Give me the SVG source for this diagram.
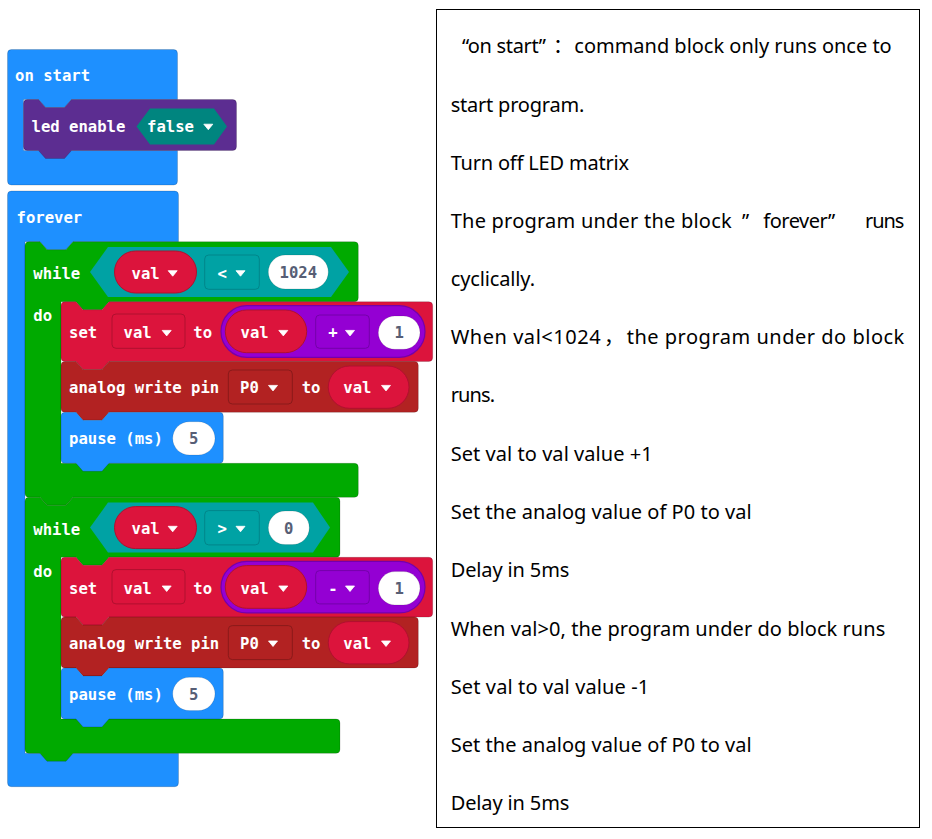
<svg xmlns="http://www.w3.org/2000/svg" xmlns:xlink="http://www.w3.org/1999/xlink" width="932" height="839" viewBox="0 0 932 839">
  <style>
    .lbl { font-family: "DejaVu Sans Mono", "Liberation Mono", monospace; font-size: 15.6px; font-weight: bold; fill: #ffffff; }
    .num { font-family: "DejaVu Sans Mono", "Liberation Mono", monospace; font-size: 15.6px; font-weight: bold; fill: #575E75; text-anchor: middle; }
    .blk { stroke: rgba(0,0,0,0.16); stroke-width: 1; }
    .basic { fill: #1E90FF; }
    .loop { fill: #00AA00; }
    .led { fill: #5C2D91; }
    .vars { fill: #DC143C; }
    .pins { fill: #B22222; }
    .logic { fill: #00A2A4; }
    .bool { fill: #00857F; }
    .math { fill: #9400D3; stroke: #7400AA; stroke-width: 1.2; }
    .pill-red { fill: #DC143C; stroke: #B0102F; stroke-width: 1; }
    .box-red { fill: #DC143C; stroke: #B0102F; stroke-width: 1; }
    .box-pin { fill: #B22222; stroke: #8A1A1A; stroke-width: 1; }
    .box-logic { fill: #00A2A4; stroke: #00868A; stroke-width: 1; }
    .box-math { fill: #9400D3; stroke: #7400AA; stroke-width: 1; }
    .pill-num { fill: #ffffff; stroke: rgba(0,0,0,0.12); stroke-width: 1; }
    .note { font-family: "Noto Sans", "Noto Sans CJK SC", sans-serif; font-size: 20px; fill: #000000; }
  </style>
  <defs>
    <!-- dropdown caret, centred on its own origin -->
    <path id="caret" d="M-4.5,-2.6 H4.5 L0,2.9 Z" fill="#ffffff" stroke="#ffffff" stroke-width="0.8" stroke-linejoin="round"/>
  </defs>

  <rect width="932" height="839" fill="#ffffff"/>

  <!-- on start hat with its single statement -->
  <g id="on-start">
    <path class="blk basic" d="M7.5,53.5 Q7.5,49.5 11.5,49.5 H173.5 Q177.5,49.5 177.5,53.5 V99.5 H71.5 l-7,8 h-19 l-7,-8 H23.5 V150.5 H177.5 V181 Q177.5,185 173.5,185 H11.5 Q7.5,185 7.5,181 Z"/>
    <text class="lbl" x="15" y="81">on start</text>
  </g>
  <g id="led-enable">
    <path class="blk led" d="M23.5,103.5 Q23.5,99.5 27.5,99.5 H38.5 l7,8 h19 l7,-8 H232.5 Q236.5,99.5 236.5,103.5 V146.5 Q236.5,150.5 232.5,150.5 H71.5 l-7,8 h-19 l-7,-8 H27.5 Q23.5,150.5 23.5,146.5 Z"/>
    <text class="lbl" x="31.5" y="131.5">led enable</text>
    <polygon class="bool" points="136.5,126.5 150,108.5 214,108.5 227,126.5 214,144.5 150,144.5"/>
    <text class="lbl" x="147" y="131.5">false</text>
    <use xlink:href="#caret" x="208.3" y="126.8"/>
  </g>

  <!-- forever hat -->
  <g id="forever">
    <path class="blk basic" d="M7.5,195 Q7.5,191 11.5,191 H174.5 Q178.5,191 178.5,195 V241.7 H73 l-7,8 h-19 l-7,-8 H25 V753.3 H178.5 V782.7 Q178.5,786.7 174.5,786.7 H11.5 Q7.5,786.7 7.5,782.7 Z"/>
    <text class="lbl" x="16.5" y="223">forever</text>
  </g>

  <!-- while val < 1024 -->
  <g id="while-up">
    <path class="blk loop" d="M25,245.7 Q25,241.7 29,241.7 H40 l7,8 h19 l7,-8 H354.3 Q358.3,241.7 358.3,245.7 V297.7 Q358.3,301.7 354.3,301.7 H109 l-7,8 h-19 l-7,-8 H61 V463.3 H354.3 Q358.3,463.3 358.3,467.3 V493.3 Q358.3,497.3 354.3,497.3 H73 l-7,8 h-19 l-7,-8 H29 Q25,497.3 25,493.3 Z"/>
    <text class="lbl" x="33.3" y="279">while</text>
    <text class="lbl" x="33.3" y="321">do</text>
    <polygon class="logic" points="90,272 108,247 331,247 349,272 331,297 108,297"/>
    <rect class="pill-red" x="114.5" y="251" width="82" height="42" rx="21"/>
    <text class="lbl" x="131.5" y="278.5">val</text>
    <use xlink:href="#caret" x="172.7" y="273.3"/>
    <rect class="box-logic" x="204.7" y="255" width="54.6" height="34.3" rx="4"/>
    <text class="lbl" x="217.5" y="278.5">&lt;</text>
    <use xlink:href="#caret" x="240.5" y="273.3"/>
    <rect class="pill-num" x="268.3" y="255" width="60" height="34" rx="17"/>
    <text class="num" x="298.3" y="278">1024</text>
  </g>

  <!-- body of the counting-up loop -->
  <g id="set-up">
    <path class="blk vars" d="M61,305.7 Q61,301.7 65,301.7 H76 l7,8 h19 l7,-8 H428.7 Q432.7,301.7 432.7,305.7 V357.5 Q432.7,361.5 428.7,361.5 H109 l-7,8 h-19 l-7,-8 H65 Q61,361.5 61,357.5 Z"/>
    <text class="lbl" x="69" y="338">set</text>
    <rect class="box-red" x="112" y="314" width="73" height="34.3" rx="4"/>
    <text class="lbl" x="123.5" y="338">val</text>
    <use xlink:href="#caret" x="166.7" y="333"/>
    <text class="lbl" x="193.3" y="338">to</text>
    <rect class="math" x="221" y="305.7" width="204" height="51.6" rx="25.8"/>
    <rect class="pill-red" x="225.3" y="310" width="81.4" height="42.7" rx="21.3"/>
    <text class="lbl" x="240.5" y="338">val</text>
    <use xlink:href="#caret" x="283.3" y="333"/>
    <rect class="box-math" x="315.7" y="315" width="53.6" height="33.3" rx="4"/>
    <text class="lbl" x="328.3" y="338">+</text>
    <use xlink:href="#caret" x="350" y="333"/>
    <rect class="pill-num" x="378.3" y="316" width="41.7" height="33.3" rx="16.6"/>
    <text class="num" x="399.2" y="338">1</text>
  </g>
  <g id="write-up">
    <path class="blk pins" d="M61,365.5 Q61,361.5 65,361.5 H76 l7,8 h19 l7,-8 H414.3 Q418.3,361.5 418.3,365.5 V408.3 Q418.3,412.3 414.3,412.3 H109 l-7,8 h-19 l-7,-8 H65 Q61,412.3 61,408.3 Z"/>
    <text class="lbl" x="69" y="393">analog write pin</text>
    <rect class="box-pin" x="228.3" y="370" width="64" height="34" rx="4"/>
    <text class="lbl" x="240" y="393">P0</text>
    <use xlink:href="#caret" x="273" y="388"/>
    <text class="lbl" x="301.7" y="393">to</text>
    <rect class="pill-red" x="328.3" y="366" width="80.7" height="42.3" rx="21.1"/>
    <text class="lbl" x="343.3" y="393">val</text>
    <use xlink:href="#caret" x="386" y="388"/>
  </g>
  <g id="pause-up">
    <path class="blk basic" d="M61,416.3 Q61,412.3 65,412.3 H76 l7,8 h19 l7,-8 H219.3 Q223.3,412.3 223.3,416.3 V459.3 Q223.3,463.3 219.3,463.3 H109 l-7,8 h-19 l-7,-8 H65 Q61,463.3 61,459.3 Z"/>
    <text class="lbl" x="69" y="444">pause (ms)</text>
    <rect class="pill-num" x="172.7" y="421.7" width="42.3" height="33.3" rx="16.6"/>
    <text class="num" x="193.8" y="444">5</text>
  </g>

  <!-- while val > 0 -->
  <g id="while-down">
    <path class="blk loop" d="M25,501.3 Q25,497.3 29,497.3 H40 l7,8 h19 l7,-8 H336 Q340,497.3 340,501.3 V553.3 Q340,557.3 336,557.3 H109 l-7,8 h-19 l-7,-8 H61 V719 H336 Q340,719 340,723 V749.3 Q340,753.3 336,753.3 H73 l-7,8 h-19 l-7,-8 H29 Q25,753.3 25,749.3 Z"/>
    <text class="lbl" x="33.3" y="534.6">while</text>
    <text class="lbl" x="33.3" y="576.6">do</text>
    <polygon class="logic" points="90,527.6 108,502.6 313,502.6 330,527.6 313,552.6 108,552.6"/>
    <rect class="pill-red" x="114.5" y="506.6" width="82" height="42" rx="21"/>
    <text class="lbl" x="131.5" y="534.1">val</text>
    <use xlink:href="#caret" x="172.7" y="528.9"/>
    <rect class="box-logic" x="204.7" y="510.6" width="54.6" height="34.3" rx="4"/>
    <text class="lbl" x="217.5" y="534.1">&gt;</text>
    <use xlink:href="#caret" x="240.5" y="528.9"/>
    <rect class="pill-num" x="268.3" y="511" width="41" height="33.6" rx="16.8"/>
    <text class="num" x="288.8" y="533.6">0</text>
  </g>

  <!-- body of the counting-down loop, same layout one loop lower -->
  <g id="set-down" transform="translate(0,255.6)">
    <path class="blk vars" d="M61,305.7 Q61,301.7 65,301.7 H76 l7,8 h19 l7,-8 H428.7 Q432.7,301.7 432.7,305.7 V357.5 Q432.7,361.5 428.7,361.5 H109 l-7,8 h-19 l-7,-8 H65 Q61,361.5 61,357.5 Z"/>
    <text class="lbl" x="69" y="338">set</text>
    <rect class="box-red" x="112" y="314" width="73" height="34.3" rx="4"/>
    <text class="lbl" x="123.5" y="338">val</text>
    <use xlink:href="#caret" x="166.7" y="333"/>
    <text class="lbl" x="193.3" y="338">to</text>
    <rect class="math" x="221" y="305.7" width="204" height="51.6" rx="25.8"/>
    <rect class="pill-red" x="225.3" y="310" width="81.4" height="42.7" rx="21.3"/>
    <text class="lbl" x="240.5" y="338">val</text>
    <use xlink:href="#caret" x="283.3" y="333"/>
    <rect class="box-math" x="315.7" y="315" width="53.6" height="33.3" rx="4"/>
    <text class="lbl" x="328.3" y="338">-</text>
    <use xlink:href="#caret" x="350" y="333"/>
    <rect class="pill-num" x="378.3" y="316" width="41.7" height="33.3" rx="16.6"/>
    <text class="num" x="399.2" y="338">1</text>
  </g>
  <g id="write-down" transform="translate(0,255.6)">
    <path class="blk pins" d="M61,365.5 Q61,361.5 65,361.5 H76 l7,8 h19 l7,-8 H414.3 Q418.3,361.5 418.3,365.5 V408.3 Q418.3,412.3 414.3,412.3 H109 l-7,8 h-19 l-7,-8 H65 Q61,412.3 61,408.3 Z"/>
    <text class="lbl" x="69" y="393">analog write pin</text>
    <rect class="box-pin" x="228.3" y="370" width="64" height="34" rx="4"/>
    <text class="lbl" x="240" y="393">P0</text>
    <use xlink:href="#caret" x="273" y="388"/>
    <text class="lbl" x="301.7" y="393">to</text>
    <rect class="pill-red" x="328.3" y="366" width="80.7" height="42.3" rx="21.1"/>
    <text class="lbl" x="343.3" y="393">val</text>
    <use xlink:href="#caret" x="386" y="388"/>
  </g>
  <g id="pause-down" transform="translate(0,255.6)">
    <path class="blk basic" d="M61,416.3 Q61,412.3 65,412.3 H76 l7,8 h19 l7,-8 H219.3 Q223.3,412.3 223.3,416.3 V459.3 Q223.3,463.3 219.3,463.3 H109 l-7,8 h-19 l-7,-8 H65 Q61,463.3 61,459.3 Z"/>
    <text class="lbl" x="69" y="444">pause (ms)</text>
    <rect class="pill-num" x="172.7" y="421.7" width="42.3" height="33.3" rx="16.6"/>
    <text class="num" x="193.8" y="444">5</text>
  </g>

  <!-- explanation panel -->
  <g id="notes">
    <rect x="436.5" y="9.5" width="483" height="818" fill="#ffffff" stroke="#000000" stroke-width="1"/>
    <text class="note" y="53"><tspan x="462" textLength="84">“on start”</tspan><tspan x="553">：</tspan><tspan x="574.3" textLength="317.4">command block only runs once to</tspan></text>
    <text class="note" x="450.7" y="111.5" textLength="133.6">start program.</text>
    <text class="note" x="450.7" y="169.5" textLength="178.3">Turn off LED matrix</text>
    <text class="note" y="227.5"><tspan x="450.7" textLength="281">The program under the block</tspan><tspan x="742">”</tspan><tspan x="763.3" textLength="72">forever”</tspan><tspan x="865" textLength="39.3">runs</tspan></text>
    <text class="note" x="450.7" y="286" textLength="84.3">cyclically.</text>
    <text class="note" y="344"><tspan x="450.7" textLength="150">When val&lt;1024</tspan><tspan x="604">，</tspan><tspan x="626.7" textLength="277.6">the program under do block</tspan></text>
    <text class="note" x="450.7" y="402" textLength="44.3">runs.</text>
    <text class="note" x="450.7" y="460.5" textLength="202">Set val to val value +1</text>
    <text class="note" x="450.7" y="519" textLength="301">Set the analog value of P0 to val</text>
    <text class="note" x="450.7" y="577" textLength="118.6">Delay in 5ms</text>
    <text class="note" x="450.7" y="635.5" textLength="434.6">When val&gt;0, the program under do block runs</text>
    <text class="note" x="450.7" y="694" textLength="198.6">Set val to val value -1</text>
    <text class="note" x="450.7" y="752" textLength="301">Set the analog value of P0 to val</text>
    <text class="note" x="450.7" y="810" textLength="118.6">Delay in 5ms</text>
  </g>
</svg>
